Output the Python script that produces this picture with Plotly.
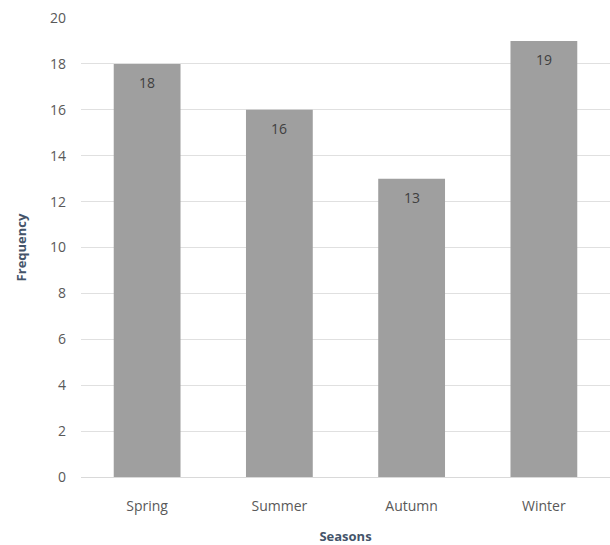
import plotly.graph_objects as go

seasons = ["Spring", "Summer", "Autumn", "Winter"]
frequency = [18, 16, 13, 19]
y_ticks = [0, 2, 4, 6, 8, 10, 12, 14, 16, 18, 20]

fig = go.Figure(
    go.Bar(
        x=seasons,
        y=frequency,
        marker=dict(color="#9f9f9f", line=dict(width=0)),
        width=0.505,
        hoverinfo="x+y",
    )
)

# value labels sitting just inside the top of each bar
for s, v in zip(seasons, frequency):
    fig.add_annotation(
        x=s, y=v, text=str(v), showarrow=False,
        yanchor="middle", yshift=-19,
        font=dict(family="Open Sans, sans-serif", size=14, color="#404040"),
    )

fig.update_layout(
    width=610,
    height=545,
    margin=dict(l=81, r=0, t=18, b=68),
    paper_bgcolor="white",
    plot_bgcolor="white",
    showlegend=False,
    font=dict(family="Open Sans, sans-serif", color="#595959"),
    xaxis=dict(
        showgrid=False,
        showline=True,
        linecolor="#d9d9d9",
        linewidth=1,
        ticks="",
        ticklabelstandoff=16,
        tickfont=dict(size=14, color="#595959"),
        title=dict(text="<b>Seasons</b>", font=dict(size=13, color="#44546a"), standoff=19),
    ),
    yaxis=dict(
        range=[0, 20],
        tickvals=y_ticks,
        showgrid=True,
        gridcolor="#e0e0e0",
        gridwidth=1,
        zeroline=False,
        showline=False,
        ticks="",
        ticklabelstandoff=14,
        tickfont=dict(size=14, color="#595959"),
        title=dict(text="<b>Frequency</b>", font=dict(size=13, color="#44546a"), standoff=20),
    ),
)

fig.write_html("out.html")
